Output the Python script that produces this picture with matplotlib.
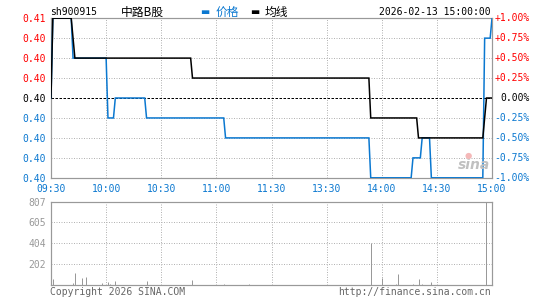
import matplotlib
matplotlib.use("Agg")
import matplotlib.pyplot as plt
from matplotlib.transforms import blended_transform_factory

# ---------------- data ----------------
prev_close = 0.401
symbol = "sh900915"
name = "中路B股"
timestamp = "2026-02-13 15:00:00"

time_ticks = [0, 30, 60, 90, 120, 150, 180, 210, 240]
time_labels = ["09:30", "10:00", "10:30", "11:00", "11:30", "13:30", "14:00", "14:30", "15:00"]

price_min = [0, 1, 11, 12, 30, 31, 34, 35, 51, 52, 94, 95, 173, 174, 196, 197,
             201, 202, 206, 207, 235, 236, 239, 240]
price_val = [0.401, 0.405, 0.405, 0.403, 0.403, 0.400, 0.400, 0.401, 0.401, 0.400,
             0.400, 0.399, 0.399, 0.397, 0.397, 0.398, 0.398, 0.399, 0.399, 0.397,
             0.397, 0.404, 0.404, 0.405]

avg_min = [0, 1, 11, 12, 13, 76, 77, 173, 174, 199, 200, 235, 236, 237, 240]
avg_val = [0.401, 0.405, 0.405, 0.404, 0.403, 0.403, 0.402, 0.402, 0.400, 0.400,
           0.399, 0.399, 0.400, 0.401, 0.401]

vol_min = [1, 12, 13, 17, 19, 28, 31, 32, 35, 52, 77, 94, 108, 174, 180, 188, 189,
           197, 200, 202, 207, 237]
vol_val = [65, 26, 123, 75, 84, 26, 36, 17, 46, 46, 55, 12, 10, 404, 75, 10, 107,
           10, 58, 10, 29, 807]

pct_levels = [1.00, 0.75, 0.50, 0.25, 0.00, -0.25, -0.50, -0.75, -1.00]
vol_ticks = [202, 404, 605, 807]
vol_max = 807

# ---------------- style ----------------
W, H = 545, 300
BLUE = "#0b78d0"
RED = "#ff0000"
GRAY = "#999999"
GRID = "#b4b4b4"
MONO = "DejaVu Sans Mono"
FS = 7.0
PX = 0.72  # one pixel in points at dpi 100

fig = plt.figure(figsize=(W / 100, H / 100), dpi=100)
fig.patch.set_facecolor("white")

def fx(x):
    return x / W

def fy(y):
    return 1 - y / H

main_l, main_r, main_t, main_b = 51, 492, 18, 178
vol_t, vol_b = 201.5, 285.3
ax = fig.add_axes([fx(main_l), fy(main_b), (main_r - main_l) / W, (main_b - main_t) / H])
axv = fig.add_axes([fx(main_l), fy(vol_b), (main_r - main_l) / W, (vol_b - vol_t) / H])

lo = prev_close * (1 - 0.01)
hi = prev_close * (1 + 0.01)

for a in (ax, axv):
    a.set_xlim(0, 240)
    for s in a.spines.values():
        s.set_color(GRAY)
        s.set_linewidth(1.2 * PX)
    a.tick_params(length=0)
    for t in time_ticks[1:-1]:
        a.axvline(t, color=GRID, lw=PX, ls=(0, (1, 1.5)), zorder=1)

ax.set_ylim(lo, hi)
price_ticks = [prev_close * (1 + p / 100) for p in pct_levels]
for p, v in zip(pct_levels, price_ticks):
    if p not in (1.0, -1.0, 0.0):
        ax.axhline(v, color=GRID, lw=PX, ls=(0, (1, 1.5)), zorder=1)
ax.axhline(prev_close, color="black", lw=PX, ls=(0, (2.5, 1.5)), zorder=2)

ax.plot(price_min, price_val, color=BLUE, lw=1.1, zorder=3, solid_joinstyle="miter")
ax.plot(avg_min, avg_val, color="black", lw=1.1, zorder=4, solid_joinstyle="miter")

ax.set_yticks(price_ticks)
ax.set_yticklabels(["%.2f" % v for v in price_ticks], fontfamily=MONO, fontsize=FS)
for lab, p in zip(ax.get_yticklabels(), pct_levels):
    lab.set_color(RED if p > 0 else (BLUE if p < 0 else "black"))
ax.tick_params(axis="y", pad=3.6)

ax.set_xticks(time_ticks)
ax.set_xticklabels(time_labels, fontfamily=MONO, fontsize=FS, color=BLUE)
ax.tick_params(axis="x", pad=4.0)

trans = blended_transform_factory(ax.transAxes, ax.transData)
xr = (530 - main_l) / (main_r - main_l)
for p, v in zip(pct_levels, price_ticks):
    txt = ("%+.2f%%" % p) if p != 0 else "0.00%"
    col = RED if p > 0 else (BLUE if p < 0 else "black")
    ax.text(xr, v, txt, transform=trans, ha="right", va="center",
            fontfamily=MONO, fontsize=FS, color=col, clip_on=False)

# volume
axv.set_ylim(0, vol_max)
for v in vol_ticks[:-1]:
    axv.axhline(v, color=GRID, lw=PX, ls=(0, (1, 1.5)), zorder=1)
axv.vlines(vol_min, 0, vol_val, color=GRAY, lw=1.0 * PX, zorder=3)
axv.set_yticks(vol_ticks)
axv.set_yticklabels([str(v) for v in vol_ticks], fontfamily=MONO, fontsize=FS, color=GRAY)
axv.tick_params(axis="y", pad=3.6)
axv.set_xticks([])

# watermark
fig.text(fx(474), fy(165), "sina", fontsize=10, fontweight="bold", style="italic",
         color="#c0c0c0", ha="center", va="center", family="DejaVu Sans")
fig.text(fx(468), fy(155), "●", fontsize=6, color="#f4b8b8", ha="center", va="center",
         family="DejaVu Sans")

# header
fig.text(fx(50), fy(12), symbol, fontfamily=MONO, fontsize=FS, color="black",
         ha="left", va="center")
fig.text(fx(120.5), fy(12), name, family=["Noto Sans CJK SC", "DejaVu Sans"],
         fontsize=8.5, color="black", ha="left", va="center")
fig.text(fx(200), fy(12), "▬", family=["DejaVu Sans"], fontsize=7, color=BLUE,
         ha="left", va="center")
fig.text(fx(216), fy(12), "价格", family=["Noto Sans CJK SC", "DejaVu Sans"],
         fontsize=8.5, color=BLUE, ha="left", va="center")
fig.text(fx(250), fy(12), "▬", family=["DejaVu Sans"], fontsize=7, color="black",
         ha="left", va="center")
fig.text(fx(265), fy(12), "均线", family=["Noto Sans CJK SC", "DejaVu Sans"],
         fontsize=8.5, color="black", ha="left", va="center")
fig.text(fx(491), fy(12), timestamp, fontfamily=MONO, fontsize=FS, color="black",
         ha="right", va="center")

# footer
fig.text(fx(50), fy(292), "Copyright 2026 SINA.COM", fontfamily=MONO, fontsize=FS,
         color="#666666", ha="left", va="center")
fig.text(fx(491), fy(292), "http://finance.sina.com.cn", fontfamily=MONO, fontsize=FS,
         color="#666666", ha="right", va="center")

fig.savefig("out.png", dpi=100, facecolor="white")
